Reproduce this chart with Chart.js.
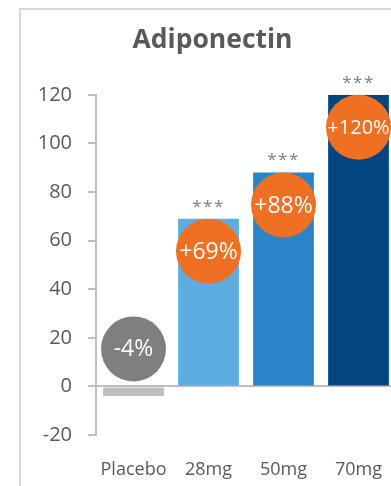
<!DOCTYPE html>
<html>
<head>
<meta charset="utf-8">
<script src="https://cdn.jsdelivr.net/npm/chart.js@4.4.1/dist/chart.umd.min.js"></script>
<style>
  html, body { margin: 0; padding: 0; background: #fff; overflow: hidden; }
  #box {
    position: absolute; left: 19px; top: 8px;
    width: 383px; height: 476px;
    border-left: 2px solid #d9d9d9; border-top: 2px solid #d9d9d9;
  }
  #chart { display: block; }
</style>
</head>
<body>
<div id="box"><canvas id="chart" width="383" height="476"></canvas></div>
<script>
// Adiponectin change by dose
const doses = ['Placebo', '28mg', '50mg', '70mg'];
const values = [-4, 69, 88, 120];
const changeLabels = ['-4%', '+69%', '+88%', '+120%'];
const significance = ['', '***', '***', '***'];
const yTicks = [-20, 0, 20, 40, 60, 80, 100, 120];

const barColors = ['#bfbfbf', '#5dade2', '#2984c8', '#03467f'];
const bubbleColors = ['#7f7f7f', '#f07023', '#f07023', '#f07023'];
const FONT = "'Open Sans', sans-serif";

// Orange/grey bubbles sitting on each bar, plus the significance stars
const bubbles = {
  id: 'bubbles',
  afterDatasetsDraw(chart) {
    const { ctx } = chart;
    const yScale = chart.scales.y;
    const zero = yScale.getPixelForValue(0);
    const r = 32.5;
    chart.getDatasetMeta(0).data.forEach((bar, i) => {
      const cx = bar.x;
      const cy = values[i] >= 0 ? bar.y + r : zero - r - 5;
      ctx.save();
      ctx.beginPath();
      ctx.arc(cx, cy, r, 0, Math.PI * 2);
      ctx.fillStyle = bubbleColors[i];
      ctx.fill();

      // shrink the text until it fits the bubble
      let size = 23;
      ctx.font = size + 'px ' + FONT;
      while (ctx.measureText(changeLabels[i]).width > 2 * r - 2 && size > 10) {
        size -= 0.5;
        ctx.font = size + 'px ' + FONT;
      }
      ctx.fillStyle = '#fff';
      ctx.textAlign = 'center';
      ctx.textBaseline = 'middle';
      ctx.fillText(changeLabels[i], cx, cy + 1);

      if (significance[i]) {
        ctx.font = '17px ' + FONT;
        ctx.fillStyle = '#7f7f7f';
        ctx.letterSpacing = '1.5px';
        ctx.fillText(significance[i], cx, bar.y - 12);
      }
      ctx.restore();
    });
  }
};

new Chart(document.getElementById('chart'), {
  type: 'bar',
  data: {
    labels: doses,
    datasets: [{
      data: values,
      backgroundColor: barColors,
      borderWidth: 0,
      barPercentage: 0.81,
      categoryPercentage: 1.0
    }]
  },
  options: {
    responsive: false,
    animation: false,
    layout: { padding: { left: 8, right: 8, top: 0, bottom: 6 } },
    plugins: {
      legend: { display: false },
      tooltip: { enabled: false },
      title: {
        display: true,
        text: 'Adiponectin',
        color: '#595959',
        font: { family: FONT, size: 26.5, weight: 'bold' },
        padding: { top: 15, bottom: 38 }
      }
    },
    scales: {
      x: {
        afterFit(scale) {
          scale.height = 45;
          scale.paddingLeft = 0;
          scale.paddingRight = 0;
        },
        grid: { display: false, drawTicks: false },
        border: { display: false },
        ticks: {
          color: '#595959',
          font: { family: FONT, size: 18 },
          padding: 24,
          maxRotation: 0
        }
      },
      y: {
        min: -20,
        max: 120,
        afterFit(scale) { scale.width = 67; },
        afterBuildTicks(scale) { scale.ticks = yTicks.map(v => ({ value: v })); },
        border: { color: '#bfbfbf', width: 2 },
        grid: {
          color: ctx => ctx.tick && ctx.tick.value === 0 ? '#bfbfbf' : 'rgba(0,0,0,0)',
          tickColor: '#bfbfbf',
          lineWidth: 2,
          tickLength: 8
        },
        ticks: {
          color: '#595959',
          font: { family: FONT, size: 20 },
          padding: 16
        }
      }
    }
  },
  plugins: [bubbles]
});
</script>
</body>
</html>
